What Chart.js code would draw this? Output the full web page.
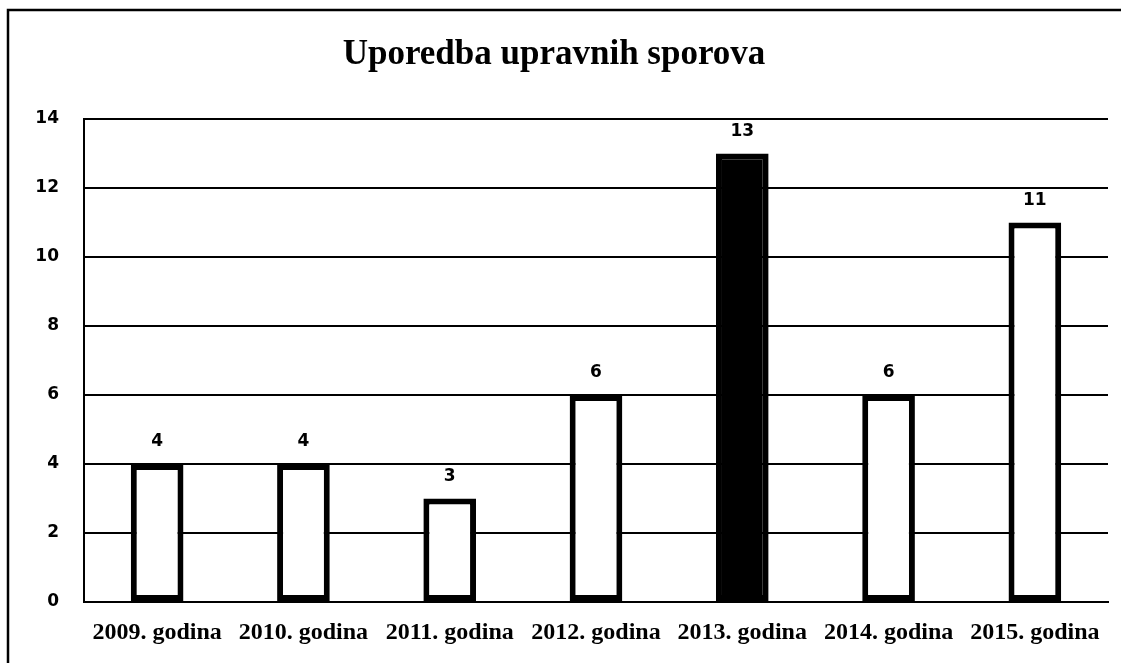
<!DOCTYPE html>
<html>
<head>
<meta charset="utf-8">
<script src="https://cdn.jsdelivr.net/npm/chart.js@4"></script>
<style>
  html, body { margin: 0; padding: 0; background: #fff; }
  #wrap { width: 1121px; height: 663px; }
</style>
</head>
<body>
<div id="wrap"><canvas id="bar-chart" width="1121" height="663"></canvas></div>
<script>
// podaci
const godine = ['2009. godina', '2010. godina', '2011. godina', '2012. godina', '2013. godina', '2014. godina', '2015. godina'];
const sporovi = [4, 4, 3, 6, 13, 6, 11];
const yMin = 0;
const yMax = 14;
const yStep = 2;
const naslov = 'Uporedba upravnih sporova';

// okvir slike i bijela pozadina
const okvir = {
    id: 'okvir',
    beforeDraw(chart) {
        const ctx = chart.ctx;
        ctx.save();
        ctx.fillStyle = '#fff';
        ctx.fillRect(0, 0, chart.width, chart.height);
        ctx.strokeStyle = '#000';
        ctx.lineWidth = 2.5;
        ctx.beginPath();
        ctx.moveTo(8, chart.height);
        ctx.lineTo(8, 10);
        ctx.lineTo(chart.width, 10);
        ctx.stroke();
        ctx.restore();
    }
};

// vrijednosti iznad stupaca
const oznake = {
    id: 'oznake',
    afterDatasetsDraw(chart) {
        const ctx = chart.ctx;
        const meta = chart.getDatasetMeta(0);
        ctx.save();
        ctx.fillStyle = '#000';
        ctx.font = 'bold 17px "DejaVu Sans"';
        ctx.textAlign = 'center';
        ctx.textBaseline = 'middle';
        meta.data.forEach(function (bar, i) {
            ctx.fillText(chart.data.datasets[0].data[i], bar.x, bar.y - 22);
        });
        ctx.restore();
    }
};

new Chart(document.getElementById('bar-chart'), {
    type: 'bar',
    data: {
        labels: godine,
        datasets: [{
            data: sporovi,
            backgroundColor: godine.map(g => g === '2013. godina' ? '#000' : '#fff'),
            borderColor: '#000',
            borderWidth: 6,
            borderSkipped: false,
            barPercentage: 0.36,
            categoryPercentage: 1
        }]
    },
    options: {
        responsive: false,
        animation: false,
        layout: { padding: { left: 0, right: 13, top: 0, bottom: 0 } },
        plugins: {
            legend: { display: false },
            tooltip: { enabled: false },
            title: {
                display: true,
                text: naslov,
                color: '#000',
                font: { family: '"Liberation Serif"', size: 35, weight: 'bold', lineHeight: 1.2 },
                padding: { top: 34, bottom: 43 }
            }
        },
        scales: {
            x: {
                grid: { display: false, drawTicks: false },
                border: { display: true, color: '#000', width: 2 },
                ticks: {
                    color: '#000',
                    padding: 16,
                    maxRotation: 0,
                    autoSkip: false,
                    font: { family: '"Liberation Serif"', size: 24, weight: 'bold' }
                },
                afterFit: function (scale) { scale.height = 61; }
            },
            y: {
                min: yMin,
                max: yMax,
                grid: { color: '#000', lineWidth: 2, drawTicks: false },
                border: { display: true, color: '#000', width: 2 },
                ticks: {
                    stepSize: yStep,
                    color: '#000',
                    padding: 25,
                    font: { family: '"DejaVu Sans"', size: 17, weight: 'bold' }
                },
                afterFit: function (scale) { scale.width = 84; }
            }
        }
    },
    plugins: [okvir, oznake]
});
</script>
</body>
</html>
